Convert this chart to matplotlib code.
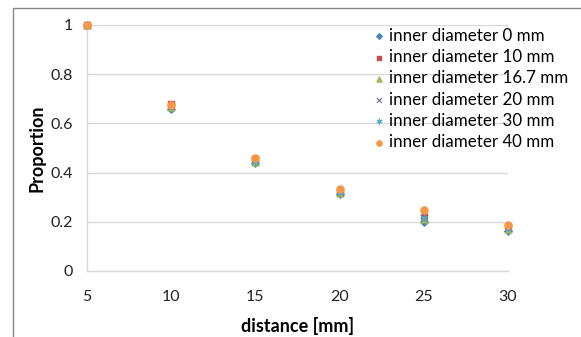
import matplotlib
matplotlib.use("Agg")
import matplotlib.pyplot as plt
from matplotlib.patches import Rectangle

distance = [5, 10, 15, 20, 25, 30]
d0 = [1.0, 0.660, 0.440, 0.312, 0.200, 0.163]
d10 = [1.0, 0.680, 0.455, 0.322, 0.220, 0.175]
d167 = [1.0, 0.668, 0.442, 0.318, 0.210, 0.172]
d20 = [1.0, 0.670, 0.448, 0.320, 0.215, 0.174]
d30 = [1.0, 0.670, 0.448, 0.320, 0.215, 0.174]
d40 = [1.0, 0.675, 0.458, 0.332, 0.250, 0.186]
labels = ["inner diameter 0 mm", "inner diameter 10 mm", "inner diameter 16.7 mm",
          "inner diameter 20 mm", "inner diameter 30 mm", "inner diameter 40 mm"]

plt.rcParams['font.family'] = ['Lato', 'DejaVu Sans']

fig = plt.figure(figsize=(5.81, 3.37), dpi=100)
ax = fig.add_axes([87/581, 1-271/337, (508-87)/581, (271-25)/337])

series = [d0, d10, d167, d20, d30, d40]
styles = [
    dict(marker='D', color='#4F81BD', s=14),
    dict(marker='s', color='#C0504D', s=22),
    dict(marker='^', color='#9BBB59', s=24),
    dict(marker='x', color='#8064A2', s=24, linewidths=0.8),
    dict(marker=(6, 2, 0), color='#4BACC6', s=24, linewidths=0.8),
    dict(marker='o', color='#F79646', s=26),
]
for ys, st, lab in zip(series, styles, labels):
    ax.scatter(distance, ys, label=lab, zorder=3, clip_on=False, **st)

ax.set_xlim(5, 30)
ax.set_ylim(0, 1)
ax.set_xticks(distance)
ax.set_yticks([0, 0.2, 0.4, 0.6, 0.8, 1])
ax.set_yticklabels(['0', '0.2', '0.4', '0.6', '0.8', '1'])
ax.grid(axis='y', color='#D9D9D9', linewidth=1)
ax.set_axisbelow(True)
for s in ['top', 'right']:
    ax.spines[s].set_visible(False)
for s in ['left', 'bottom']:
    ax.spines[s].set_color('#D9D9D9')
    ax.spines[s].set_linewidth(1)
ax.tick_params(length=0, labelsize=11.5, colors='#222222', pad=10)
ax.tick_params(axis='x', pad=14)

ax.set_xlabel('distance [mm]', fontsize=13, fontweight='bold', labelpad=9)
ax.set_ylabel('Proportion', fontsize=13, fontweight='bold', labelpad=4)

leg = ax.legend(loc='upper left', bbox_to_anchor=(364/581, 1-21/337),
                bbox_transform=fig.transFigure, frameon=False, fontsize=12.2,
                handletextpad=0.1, labelspacing=0.31, borderaxespad=0,
                handlelength=1.0, scatterpoints=1, markerscale=0.75)

fig.add_artist(Rectangle((13/581, -0.1), 1.2, 1 - 8/337 + 0.1, transform=fig.transFigure,
                         fill=False, edgecolor='#868686', linewidth=1))

fig.savefig('out.png', dpi=100)
